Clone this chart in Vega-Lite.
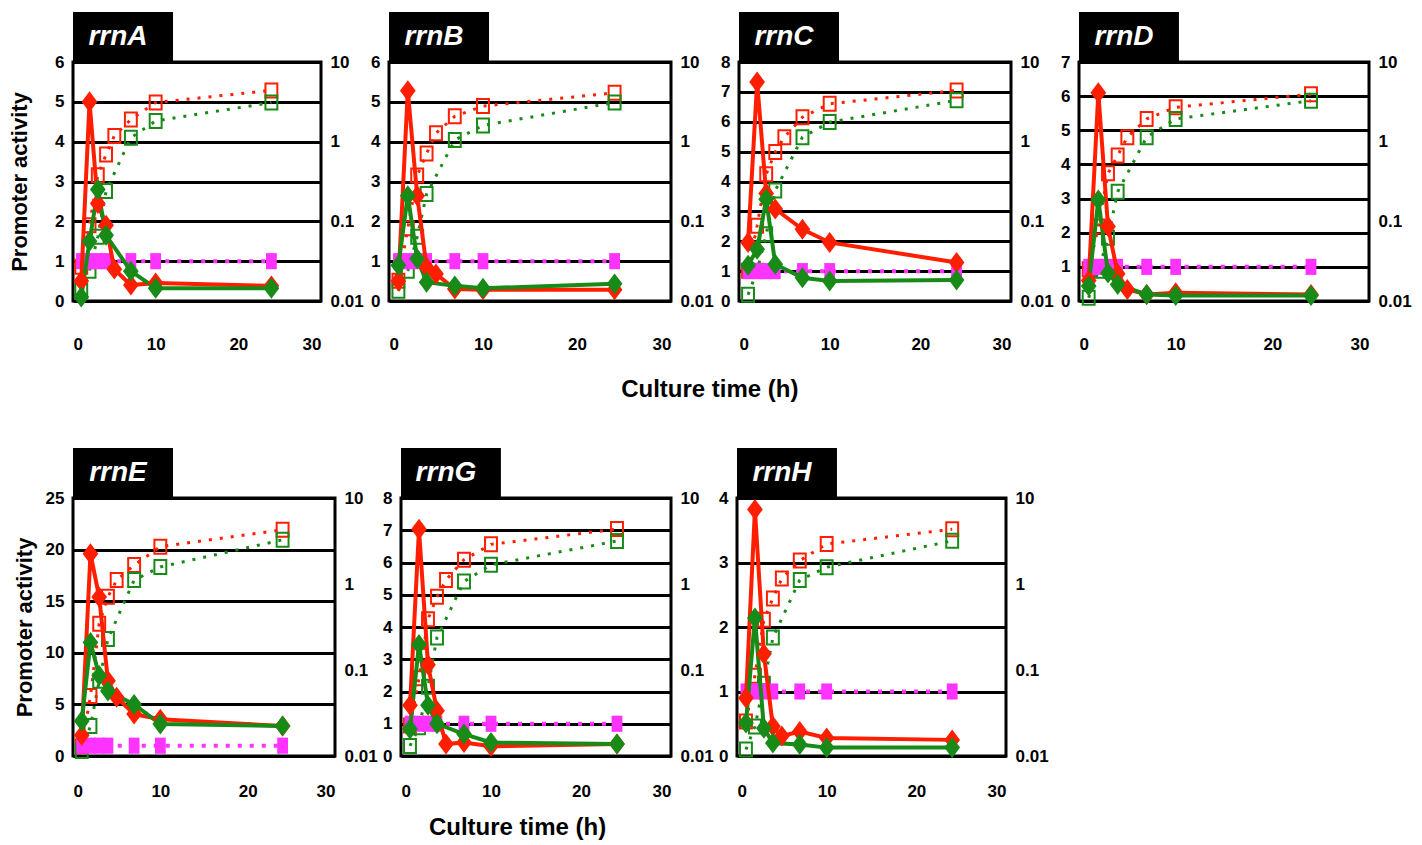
{
"$schema": "https://vega.github.io/schema/vega-lite/v6.json",
"padding": {"left": 7, "top": 10, "right": 5, "bottom": 5},
"background": "white",
"datasets": {"d": [
{"p":"A","s":"m","t":1,"v":1},{"p":"A","s":"m","t":2,"v":1},{"p":"A","s":"m","t":3,"v":1},{"p":"A","s":"m","t":4,"v":1},{"p":"A","s":"m","t":7,"v":1},{"p":"A","s":"m","t":10,"v":1},{"p":"A","s":"m","t":24,"v":1},
{"p":"A","s":"ro","t":1,"v":0.027},{"p":"A","s":"ro","t":2,"v":0.089},{"p":"A","s":"ro","t":3,"v":0.38},{"p":"A","s":"ro","t":4,"v":0.69},{"p":"A","s":"ro","t":5,"v":1.18},{"p":"A","s":"ro","t":7,"v":1.9},{"p":"A","s":"ro","t":10,"v":3.1},{"p":"A","s":"ro","t":24,"v":4.4},
{"p":"A","s":"go","t":1,"v":0.0134},{"p":"A","s":"go","t":2,"v":0.024},{"p":"A","s":"go","t":3,"v":0.064},{"p":"A","s":"go","t":4,"v":0.24},{"p":"A","s":"go","t":7,"v":1.12},{"p":"A","s":"go","t":10,"v":1.82},{"p":"A","s":"go","t":24,"v":3.1},
{"p":"A","s":"rp","t":1,"v":0.5},{"p":"A","s":"rp","t":2,"v":5.0},{"p":"A","s":"rp","t":3,"v":2.45},{"p":"A","s":"rp","t":4,"v":1.9},{"p":"A","s":"rp","t":5,"v":0.8},{"p":"A","s":"rp","t":7,"v":0.4},{"p":"A","s":"rp","t":10,"v":0.45},{"p":"A","s":"rp","t":24,"v":0.38},
{"p":"A","s":"gp","t":1,"v":0.1},{"p":"A","s":"gp","t":2,"v":1.5},{"p":"A","s":"gp","t":3,"v":2.8},{"p":"A","s":"gp","t":4,"v":1.65},{"p":"A","s":"gp","t":7,"v":0.75},{"p":"A","s":"gp","t":10,"v":0.32},{"p":"A","s":"gp","t":24,"v":0.32},
{"p":"B","s":"m","t":1,"v":1},{"p":"B","s":"m","t":2,"v":1},{"p":"B","s":"m","t":3,"v":1},{"p":"B","s":"m","t":4,"v":1},{"p":"B","s":"m","t":7,"v":1},{"p":"B","s":"m","t":10,"v":1},{"p":"B","s":"m","t":24,"v":1},
{"p":"B","s":"ro","t":1,"v":0.018},{"p":"B","s":"ro","t":2,"v":0.082},{"p":"B","s":"ro","t":3,"v":0.375},{"p":"B","s":"ro","t":4,"v":0.71},{"p":"B","s":"ro","t":5,"v":1.28},{"p":"B","s":"ro","t":7,"v":2.08},{"p":"B","s":"ro","t":10,"v":2.8},{"p":"B","s":"ro","t":24,"v":4.1},
{"p":"B","s":"go","t":1,"v":0.0134},{"p":"B","s":"go","t":2,"v":0.024},{"p":"B","s":"go","t":3,"v":0.064},{"p":"B","s":"go","t":4,"v":0.22},{"p":"B","s":"go","t":7,"v":1.05},{"p":"B","s":"go","t":10,"v":1.6},{"p":"B","s":"go","t":24,"v":3.1},
{"p":"B","s":"rp","t":1,"v":0.5},{"p":"B","s":"rp","t":2,"v":5.28},{"p":"B","s":"rp","t":3,"v":2.64},{"p":"B","s":"rp","t":4,"v":0.85},{"p":"B","s":"rp","t":5,"v":0.68},{"p":"B","s":"rp","t":7,"v":0.3},{"p":"B","s":"rp","t":10,"v":0.28},{"p":"B","s":"rp","t":24,"v":0.28},
{"p":"B","s":"gp","t":1,"v":0.9},{"p":"B","s":"gp","t":2,"v":2.64},{"p":"B","s":"gp","t":3,"v":1.06},{"p":"B","s":"gp","t":4,"v":0.47},{"p":"B","s":"gp","t":7,"v":0.38},{"p":"B","s":"gp","t":10,"v":0.32},{"p":"B","s":"gp","t":24,"v":0.43},
{"p":"C","s":"m","t":1,"v":1},{"p":"C","s":"m","t":2,"v":1},{"p":"C","s":"m","t":3,"v":1},{"p":"C","s":"m","t":4,"v":1},{"p":"C","s":"m","t":7,"v":1},{"p":"C","s":"m","t":10,"v":1},{"p":"C","s":"m","t":24,"v":1},
{"p":"C","s":"ro","t":1,"v":0.024},{"p":"C","s":"ro","t":2,"v":0.088},{"p":"C","s":"ro","t":3,"v":0.39},{"p":"C","s":"ro","t":4,"v":0.74},{"p":"C","s":"ro","t":5,"v":1.14},{"p":"C","s":"ro","t":7,"v":2.03},{"p":"C","s":"ro","t":10,"v":2.99},{"p":"C","s":"ro","t":24,"v":4.4},
{"p":"C","s":"go","t":1,"v":0.012},{"p":"C","s":"go","t":2,"v":0.024},{"p":"C","s":"go","t":3,"v":0.069},{"p":"C","s":"go","t":4,"v":0.243},{"p":"C","s":"go","t":7,"v":1.14},{"p":"C","s":"go","t":10,"v":1.76},{"p":"C","s":"go","t":24,"v":3.3},
{"p":"C","s":"rp","t":1,"v":1.96},{"p":"C","s":"rp","t":2,"v":7.33},{"p":"C","s":"rp","t":3,"v":3.6},{"p":"C","s":"rp","t":4,"v":3.08},{"p":"C","s":"rp","t":7,"v":2.4},{"p":"C","s":"rp","t":10,"v":1.96},{"p":"C","s":"rp","t":24,"v":1.29},
{"p":"C","s":"gp","t":1,"v":1.2},{"p":"C","s":"gp","t":2,"v":1.73},{"p":"C","s":"gp","t":3,"v":3.41},{"p":"C","s":"gp","t":4,"v":1.23},{"p":"C","s":"gp","t":7,"v":0.78},{"p":"C","s":"gp","t":10,"v":0.67},{"p":"C","s":"gp","t":24,"v":0.7},
{"p":"D","s":"m","t":1,"v":1},{"p":"D","s":"m","t":2,"v":1},{"p":"D","s":"m","t":3,"v":1},{"p":"D","s":"m","t":4,"v":1},{"p":"D","s":"m","t":7,"v":1},{"p":"D","s":"m","t":10,"v":1},{"p":"D","s":"m","t":24,"v":1},
{"p":"D","s":"ro","t":1,"v":0.025},{"p":"D","s":"ro","t":2,"v":0.086},{"p":"D","s":"ro","t":3,"v":0.4},{"p":"D","s":"ro","t":4,"v":0.67},{"p":"D","s":"ro","t":5,"v":1.14},{"p":"D","s":"ro","t":7,"v":1.93},{"p":"D","s":"ro","t":10,"v":2.7},{"p":"D","s":"ro","t":24,"v":3.95},
{"p":"D","s":"go","t":1,"v":0.011},{"p":"D","s":"go","t":2,"v":0.024},{"p":"D","s":"go","t":3,"v":0.062},{"p":"D","s":"go","t":4,"v":0.235},{"p":"D","s":"go","t":7,"v":1.14},{"p":"D","s":"go","t":10,"v":1.93},{"p":"D","s":"go","t":24,"v":3.27},
{"p":"D","s":"rp","t":1,"v":0.6},{"p":"D","s":"rp","t":2,"v":6.1},{"p":"D","s":"rp","t":3,"v":2.18},{"p":"D","s":"rp","t":4,"v":0.8},{"p":"D","s":"rp","t":5,"v":0.34},{"p":"D","s":"rp","t":7,"v":0.19},{"p":"D","s":"rp","t":10,"v":0.24},{"p":"D","s":"rp","t":24,"v":0.19},
{"p":"D","s":"gp","t":1,"v":0.44},{"p":"D","s":"gp","t":2,"v":2.96},{"p":"D","s":"gp","t":3,"v":0.82},{"p":"D","s":"gp","t":4,"v":0.48},{"p":"D","s":"gp","t":7,"v":0.19},{"p":"D","s":"gp","t":10,"v":0.16},{"p":"D","s":"gp","t":24,"v":0.16},
{"p":"E","s":"m","t":1,"v":1},{"p":"E","s":"m","t":2,"v":1},{"p":"E","s":"m","t":3,"v":1},{"p":"E","s":"m","t":4,"v":1},{"p":"E","s":"m","t":7,"v":1},{"p":"E","s":"m","t":10,"v":1},{"p":"E","s":"m","t":24,"v":1},
{"p":"E","s":"ro","t":1,"v":0.013},{"p":"E","s":"ro","t":2,"v":0.05},{"p":"E","s":"ro","t":3,"v":0.346},{"p":"E","s":"ro","t":4,"v":0.71},{"p":"E","s":"ro","t":5,"v":1.11},{"p":"E","s":"ro","t":7,"v":1.66},{"p":"E","s":"ro","t":10,"v":2.72},{"p":"E","s":"ro","t":24,"v":4.26},
{"p":"E","s":"go","t":1,"v":0.0114},{"p":"E","s":"go","t":2,"v":0.0224},{"p":"E","s":"go","t":3,"v":0.075},{"p":"E","s":"go","t":4,"v":0.23},{"p":"E","s":"go","t":7,"v":1.11},{"p":"E","s":"go","t":10,"v":1.58},{"p":"E","s":"go","t":24,"v":3.26},
{"p":"E","s":"rp","t":1,"v":2.0},{"p":"E","s":"rp","t":2,"v":19.6},{"p":"E","s":"rp","t":3,"v":15.4},{"p":"E","s":"rp","t":4,"v":7.3},{"p":"E","s":"rp","t":5,"v":5.7},{"p":"E","s":"rp","t":7,"v":4.06},{"p":"E","s":"rp","t":10,"v":3.57},{"p":"E","s":"rp","t":24,"v":2.9},
{"p":"E","s":"gp","t":1,"v":3.4},{"p":"E","s":"gp","t":2,"v":11.0},{"p":"E","s":"gp","t":3,"v":7.8},{"p":"E","s":"gp","t":4,"v":6.3},{"p":"E","s":"gp","t":7,"v":5.0},{"p":"E","s":"gp","t":10,"v":3.1},{"p":"E","s":"gp","t":24,"v":2.9},
{"p":"G","s":"m","t":1,"v":1},{"p":"G","s":"m","t":2,"v":1},{"p":"G","s":"m","t":3,"v":1},{"p":"G","s":"m","t":4,"v":1},{"p":"G","s":"m","t":7,"v":1},{"p":"G","s":"m","t":10,"v":1},{"p":"G","s":"m","t":24,"v":1},
{"p":"G","s":"ro","t":1,"v":0.0226},{"p":"G","s":"ro","t":2,"v":0.08},{"p":"G","s":"ro","t":3,"v":0.39},{"p":"G","s":"ro","t":4,"v":0.71},{"p":"G","s":"ro","t":5,"v":1.11},{"p":"G","s":"ro","t":7,"v":1.92},{"p":"G","s":"ro","t":10,"v":2.89},{"p":"G","s":"ro","t":24,"v":4.35},
{"p":"G","s":"go","t":1,"v":0.0131},{"p":"G","s":"go","t":2,"v":0.0216},{"p":"G","s":"go","t":3,"v":0.064},{"p":"G","s":"go","t":4,"v":0.239},{"p":"G","s":"go","t":7,"v":1.07},{"p":"G","s":"go","t":10,"v":1.67},{"p":"G","s":"go","t":24,"v":3.16},
{"p":"G","s":"rp","t":1,"v":1.57},{"p":"G","s":"rp","t":2,"v":7.03},{"p":"G","s":"rp","t":3,"v":2.83},{"p":"G","s":"rp","t":4,"v":1.4},{"p":"G","s":"rp","t":5,"v":0.37},{"p":"G","s":"rp","t":7,"v":0.42},{"p":"G","s":"rp","t":10,"v":0.3},{"p":"G","s":"rp","t":24,"v":0.37},
{"p":"G","s":"gp","t":1,"v":0.84},{"p":"G","s":"gp","t":2,"v":3.46},{"p":"G","s":"gp","t":3,"v":1.57},{"p":"G","s":"gp","t":4,"v":1.0},{"p":"G","s":"gp","t":7,"v":0.68},{"p":"G","s":"gp","t":10,"v":0.42},{"p":"G","s":"gp","t":24,"v":0.37},
{"p":"H","s":"m","t":1,"v":1},{"p":"H","s":"m","t":2,"v":1},{"p":"H","s":"m","t":3,"v":1},{"p":"H","s":"m","t":4,"v":1},{"p":"H","s":"m","t":7,"v":1},{"p":"H","s":"m","t":10,"v":1},{"p":"H","s":"m","t":24,"v":1},
{"p":"H","s":"ro","t":1,"v":0.0252},{"p":"H","s":"ro","t":2,"v":0.086},{"p":"H","s":"ro","t":3,"v":0.385},{"p":"H","s":"ro","t":4,"v":0.68},{"p":"H","s":"ro","t":5,"v":1.16},{"p":"H","s":"ro","t":7,"v":1.87},{"p":"H","s":"ro","t":10,"v":2.92},{"p":"H","s":"ro","t":24,"v":4.33},
{"p":"H","s":"go","t":1,"v":0.0119},{"p":"H","s":"go","t":2,"v":0.022},{"p":"H","s":"go","t":3,"v":0.069},{"p":"H","s":"go","t":4,"v":0.238},{"p":"H","s":"go","t":7,"v":1.11},{"p":"H","s":"go","t":10,"v":1.57},{"p":"H","s":"go","t":24,"v":3.18},
{"p":"H","s":"rp","t":1,"v":0.9},{"p":"H","s":"rp","t":2,"v":3.82},{"p":"H","s":"rp","t":3,"v":1.58},{"p":"H","s":"rp","t":4,"v":0.46},{"p":"H","s":"rp","t":5,"v":0.31},{"p":"H","s":"rp","t":7,"v":0.38},{"p":"H","s":"rp","t":10,"v":0.28},{"p":"H","s":"rp","t":24,"v":0.25},
{"p":"H","s":"gp","t":1,"v":0.51},{"p":"H","s":"gp","t":2,"v":2.14},{"p":"H","s":"gp","t":3,"v":0.43},{"p":"H","s":"gp","t":4,"v":0.2},{"p":"H","s":"gp","t":7,"v":0.18},{"p":"H","s":"gp","t":10,"v":0.13},{"p":"H","s":"gp","t":24,"v":0.13}
]},
"config": {
  "font": "Liberation Sans",
  "view": {"stroke": "black", "strokeWidth": 3},
  "axis": {"domain": false, "ticks": false, "grid": false, "labelFont": "Liberation Sans", "labelFontSize": 17, "labelFontWeight": "bold", "labelColor": "black", "labelPadding": 9, "labelOverlap": false, "titleFont": "Liberation Sans", "titleFontSize": 22, "titleFontWeight": "bold", "titleColor": "black", "gridColor": "black", "gridWidth": 3, "gridOpacity": 1},
  "axisX": {"labelPadding": 35},
  "axisRight": {"labelExpr": "datum.value > 5 ? '10' : datum.value > 0.5 ? '1' : datum.value > 0.05 ? '0.1' : '0.01'"},
  "text": {"font": "Liberation Sans"},
  "title": {"font": "Liberation Sans", "fontSize": 24, "fontWeight": "bold", "color": "black"}
},
"spacing": 44,
"vconcat": [
{"hconcat": [
  {"width": 248, "height": 239, "data": {"name": "d"}, "transform": [{"filter": "datum.p=='A'"}],
   "encoding": {"x": {"field": "t", "type": "quantitative", "scale": {"domain": [0, 30], "nice": false}, "axis": {"values": [0, 10, 20, 30], "title": null}},
    "color": {"field": "s", "type": "nominal", "scale": {"domain": ["rp", "gp", "ro", "go", "m"], "range": ["#ff1f00", "#178a17", "#ff1f00", "#178a17", "#ff33ff"]}, "legend": null}},
   "layer": [
    {"transform": [{"filter": "datum.s=='ro'||datum.s=='go'"}],
     "encoding": {"y": {"field": "v", "type": "quantitative", "scale": {"type": "log", "domain": [0.01, 10], "nice": false}, "axis": {"orient": "right", "values": [0.01, 0.1, 1, 10], "title": null}}},
     "layer": [{"mark": {"type": "line", "strokeWidth": 3, "strokeDash": [3, 8]}}, {"mark": {"type": "point", "shape": "M-0.85,-1L0.85,-1L0.85,1L-0.85,1Z", "size": 196, "filled": false, "strokeWidth": 2, "opacity": 1}}]},
    {"encoding": {"y": {"field": "v", "type": "quantitative", "scale": {"domain": [0, 6], "nice": false}, "axis": {"values": [0, 1, 2, 3, 4, 5, 6], "grid": true, "title": "Promoter activity", "titlePadding": 23}}},
     "layer": [
      {"transform": [{"filter": "datum.s=='m'"}], "mark": {"type": "line", "strokeWidth": 4, "strokeDash": [4, 8]}},
      {"transform": [{"filter": "datum.s=='m'"}], "mark": {"type": "point", "shape": "M-0.67,-1L0.67,-1L0.67,1L-0.67,1Z", "size": 260, "filled": true, "opacity": 1}},
      {"transform": [{"filter": "datum.s=='rp'||datum.s=='gp'"}], "mark": {"type": "line", "strokeWidth": 4}},
      {"transform": [{"filter": "datum.s=='rp'||datum.s=='gp'"}], "mark": {"type": "point", "shape": "M0,-1L0.75,0L0,1L-0.75,0Z", "size": 440, "filled": true, "opacity": 1}},
      {"transform": [{"filter": "datum.s=='m'&&datum.t==1"}], "mark": {"type": "rect"}, "encoding": {"x": {"datum": 0}, "x2": {"datum": 12.1}, "y": {"datum": 6}, "y2": {"datum": 7.255}, "color": {"value": "black"}}},
      {"transform": [{"filter": "datum.s=='m'&&datum.t==1"}], "mark": {"type": "text", "fontSize": 28, "fontWeight": "bold", "fontStyle": "italic", "dx": -5}, "encoding": {"x": {"datum": 6.05}, "y": {"datum": 6.63}, "text": {"value": "rrnA"}, "color": {"value": "white"}}}]}
   ],
   "resolve": {"scale": {"y": "independent"}}},
  {"width": 282, "height": 239, "data": {"name": "d"}, "transform": [{"filter": "datum.p=='B'"}],
   "encoding": {"x": {"field": "t", "type": "quantitative", "scale": {"domain": [0, 30], "nice": false}, "axis": {"values": [0, 10, 20, 30], "title": null}},
    "color": {"field": "s", "type": "nominal", "scale": {"domain": ["rp", "gp", "ro", "go", "m"], "range": ["#ff1f00", "#178a17", "#ff1f00", "#178a17", "#ff33ff"]}, "legend": null}},
   "layer": [
    {"transform": [{"filter": "datum.s=='ro'||datum.s=='go'"}],
     "encoding": {"y": {"field": "v", "type": "quantitative", "scale": {"type": "log", "domain": [0.01, 10], "nice": false}, "axis": {"orient": "right", "values": [0.01, 0.1, 1, 10], "title": null}}},
     "layer": [{"mark": {"type": "line", "strokeWidth": 3, "strokeDash": [3, 8]}}, {"mark": {"type": "point", "shape": "M-0.85,-1L0.85,-1L0.85,1L-0.85,1Z", "size": 196, "filled": false, "strokeWidth": 2, "opacity": 1}}]},
    {"encoding": {"y": {"field": "v", "type": "quantitative", "scale": {"domain": [0, 6], "nice": false}, "axis": {"values": [0, 1, 2, 3, 4, 5, 6], "grid": true, "title": null}}},
     "layer": [
      {"transform": [{"filter": "datum.s=='m'"}], "mark": {"type": "line", "strokeWidth": 4, "strokeDash": [4, 8]}},
      {"transform": [{"filter": "datum.s=='m'"}], "mark": {"type": "point", "shape": "M-0.67,-1L0.67,-1L0.67,1L-0.67,1Z", "size": 260, "filled": true, "opacity": 1}},
      {"transform": [{"filter": "datum.s=='rp'||datum.s=='gp'"}], "mark": {"type": "line", "strokeWidth": 4}},
      {"transform": [{"filter": "datum.s=='rp'||datum.s=='gp'"}], "mark": {"type": "point", "shape": "M0,-1L0.75,0L0,1L-0.75,0Z", "size": 440, "filled": true, "opacity": 1}},
      {"transform": [{"filter": "datum.s=='m'&&datum.t==1"}], "mark": {"type": "rect"}, "encoding": {"x": {"datum": 0}, "x2": {"datum": 10.64}, "y": {"datum": 6}, "y2": {"datum": 7.255}, "color": {"value": "black"}}},
      {"transform": [{"filter": "datum.s=='m'&&datum.t==1"}], "mark": {"type": "text", "fontSize": 28, "fontWeight": "bold", "fontStyle": "italic", "dx": -5}, "encoding": {"x": {"datum": 5.32}, "y": {"datum": 6.63}, "text": {"value": "rrnB"}, "color": {"value": "white"}}}]}
   ],
   "resolve": {"scale": {"y": "independent"}}},
  {"width": 272, "height": 239, "data": {"name": "d"}, "transform": [{"filter": "datum.p=='C'"}],
   "encoding": {"x": {"field": "t", "type": "quantitative", "scale": {"domain": [0, 30], "nice": false}, "axis": {"values": [0, 10, 20, 30], "title": null}},
    "color": {"field": "s", "type": "nominal", "scale": {"domain": ["rp", "gp", "ro", "go", "m"], "range": ["#ff1f00", "#178a17", "#ff1f00", "#178a17", "#ff33ff"]}, "legend": null}},
   "layer": [
    {"transform": [{"filter": "datum.s=='ro'||datum.s=='go'"}],
     "encoding": {"y": {"field": "v", "type": "quantitative", "scale": {"type": "log", "domain": [0.01, 10], "nice": false}, "axis": {"orient": "right", "values": [0.01, 0.1, 1, 10], "title": null}}},
     "layer": [{"mark": {"type": "line", "strokeWidth": 3, "strokeDash": [3, 8]}}, {"mark": {"type": "point", "shape": "M-0.85,-1L0.85,-1L0.85,1L-0.85,1Z", "size": 196, "filled": false, "strokeWidth": 2, "opacity": 1}}]},
    {"encoding": {"y": {"field": "v", "type": "quantitative", "scale": {"domain": [0, 8], "nice": false}, "axis": {"values": [0, 1, 2, 3, 4, 5, 6, 7, 8], "grid": true, "title": null}}},
     "layer": [
      {"transform": [{"filter": "datum.s=='m'"}], "mark": {"type": "line", "strokeWidth": 4, "strokeDash": [4, 8]}},
      {"transform": [{"filter": "datum.s=='m'"}], "mark": {"type": "point", "shape": "M-0.67,-1L0.67,-1L0.67,1L-0.67,1Z", "size": 260, "filled": true, "opacity": 1}},
      {"transform": [{"filter": "datum.s=='rp'||datum.s=='gp'"}], "mark": {"type": "line", "strokeWidth": 4}},
      {"transform": [{"filter": "datum.s=='rp'||datum.s=='gp'"}], "mark": {"type": "point", "shape": "M0,-1L0.75,0L0,1L-0.75,0Z", "size": 440, "filled": true, "opacity": 1}},
      {"transform": [{"filter": "datum.s=='m'&&datum.t==1"}], "mark": {"type": "rect"}, "encoding": {"x": {"datum": 0}, "x2": {"datum": 11.03}, "y": {"datum": 8}, "y2": {"datum": 9.674}, "color": {"value": "black"}}},
      {"transform": [{"filter": "datum.s=='m'&&datum.t==1"}], "mark": {"type": "text", "fontSize": 28, "fontWeight": "bold", "fontStyle": "italic", "dx": -5}, "encoding": {"x": {"datum": 5.515}, "y": {"datum": 8.837}, "text": {"value": "rrnC"}, "color": {"value": "white"}}}]}
   ],
   "resolve": {"scale": {"y": "independent"}}},
  {"width": 290, "height": 239, "data": {"name": "d"}, "transform": [{"filter": "datum.p=='D'"}],
   "encoding": {"x": {"field": "t", "type": "quantitative", "scale": {"domain": [0, 30], "nice": false}, "axis": {"values": [0, 10, 20, 30], "title": null}},
    "color": {"field": "s", "type": "nominal", "scale": {"domain": ["rp", "gp", "ro", "go", "m"], "range": ["#ff1f00", "#178a17", "#ff1f00", "#178a17", "#ff33ff"]}, "legend": null}},
   "layer": [
    {"transform": [{"filter": "datum.s=='ro'||datum.s=='go'"}],
     "encoding": {"y": {"field": "v", "type": "quantitative", "scale": {"type": "log", "domain": [0.01, 10], "nice": false}, "axis": {"orient": "right", "values": [0.01, 0.1, 1, 10], "title": null}}},
     "layer": [{"mark": {"type": "line", "strokeWidth": 3, "strokeDash": [3, 8]}}, {"mark": {"type": "point", "shape": "M-0.85,-1L0.85,-1L0.85,1L-0.85,1Z", "size": 196, "filled": false, "strokeWidth": 2, "opacity": 1}}]},
    {"encoding": {"y": {"field": "v", "type": "quantitative", "scale": {"domain": [0, 7], "nice": false}, "axis": {"values": [0, 1, 2, 3, 4, 5, 6, 7], "grid": true, "title": null}}},
     "layer": [
      {"transform": [{"filter": "datum.s=='m'"}], "mark": {"type": "line", "strokeWidth": 4, "strokeDash": [4, 8]}},
      {"transform": [{"filter": "datum.s=='m'"}], "mark": {"type": "point", "shape": "M-0.67,-1L0.67,-1L0.67,1L-0.67,1Z", "size": 260, "filled": true, "opacity": 1}},
      {"transform": [{"filter": "datum.s=='rp'||datum.s=='gp'"}], "mark": {"type": "line", "strokeWidth": 4}},
      {"transform": [{"filter": "datum.s=='rp'||datum.s=='gp'"}], "mark": {"type": "point", "shape": "M0,-1L0.75,0L0,1L-0.75,0Z", "size": 440, "filled": true, "opacity": 1}},
      {"transform": [{"filter": "datum.s=='m'&&datum.t==1"}], "mark": {"type": "rect"}, "encoding": {"x": {"datum": 0}, "x2": {"datum": 10.34}, "y": {"datum": 7}, "y2": {"datum": 8.464}, "color": {"value": "black"}}},
      {"transform": [{"filter": "datum.s=='m'&&datum.t==1"}], "mark": {"type": "text", "fontSize": 28, "fontWeight": "bold", "fontStyle": "italic", "dx": -5}, "encoding": {"x": {"datum": 5.17}, "y": {"datum": 7.732}, "text": {"value": "rrnD"}, "color": {"value": "white"}}}]}
   ],
   "resolve": {"scale": {"y": "independent"}}}
], "spacing": 68, "bounds": "flush",
 "title": {"text": "Culture time (h)", "orient": "bottom", "anchor": "middle", "offset": 24, "dx": 0}},
{"hconcat": [
  {"width": 262, "height": 258, "data": {"name": "d"}, "transform": [{"filter": "datum.p=='E'"}],
   "encoding": {"x": {"field": "t", "type": "quantitative", "scale": {"domain": [0, 30], "nice": false}, "axis": {"values": [0, 10, 20, 30], "title": null, "labelPadding": 27}},
    "color": {"field": "s", "type": "nominal", "scale": {"domain": ["rp", "gp", "ro", "go", "m"], "range": ["#ff1f00", "#178a17", "#ff1f00", "#178a17", "#ff33ff"]}, "legend": null}},
   "layer": [
    {"transform": [{"filter": "datum.s=='ro'||datum.s=='go'"}],
     "encoding": {"y": {"field": "v", "type": "quantitative", "scale": {"type": "log", "domain": [0.01, 10], "nice": false}, "axis": {"orient": "right", "values": [0.01, 0.1, 1, 10], "title": null}}},
     "layer": [{"mark": {"type": "line", "strokeWidth": 3, "strokeDash": [3, 8]}}, {"mark": {"type": "point", "shape": "M-0.85,-1L0.85,-1L0.85,1L-0.85,1Z", "size": 196, "filled": false, "strokeWidth": 2, "opacity": 1}}]},
    {"encoding": {"y": {"field": "v", "type": "quantitative", "scale": {"domain": [0, 25], "nice": false}, "axis": {"values": [0, 5, 10, 15, 20, 25], "grid": true, "title": "Promoter activity", "titlePadding": 9}}},
     "layer": [
      {"transform": [{"filter": "datum.s=='m'"}], "mark": {"type": "line", "strokeWidth": 4, "strokeDash": [4, 8]}},
      {"transform": [{"filter": "datum.s=='m'"}], "mark": {"type": "point", "shape": "M-0.67,-1L0.67,-1L0.67,1L-0.67,1Z", "size": 260, "filled": true, "opacity": 1}},
      {"transform": [{"filter": "datum.s=='rp'||datum.s=='gp'"}], "mark": {"type": "line", "strokeWidth": 4}},
      {"transform": [{"filter": "datum.s=='rp'||datum.s=='gp'"}], "mark": {"type": "point", "shape": "M0,-1L0.75,0L0,1L-0.75,0Z", "size": 440, "filled": true, "opacity": 1}},
      {"transform": [{"filter": "datum.s=='m'&&datum.t==1"}], "mark": {"type": "rect"}, "encoding": {"x": {"datum": 0}, "x2": {"datum": 11.45}, "y": {"datum": 25}, "y2": {"datum": 29.845}, "color": {"value": "black"}}},
      {"transform": [{"filter": "datum.s=='m'&&datum.t==1"}], "mark": {"type": "text", "fontSize": 28, "fontWeight": "bold", "fontStyle": "italic", "dx": -5}, "encoding": {"x": {"datum": 5.725}, "y": {"datum": 27.42}, "text": {"value": "rrnE"}, "color": {"value": "white"}}}]}
   ],
   "resolve": {"scale": {"y": "independent"}}},
  {"width": 270, "height": 258, "data": {"name": "d"}, "transform": [{"filter": "datum.p=='G'"}],
   "encoding": {"x": {"field": "t", "type": "quantitative", "scale": {"domain": [0, 30], "nice": false}, "axis": {"values": [0, 10, 20, 30], "title": null, "labelPadding": 27}},
    "color": {"field": "s", "type": "nominal", "scale": {"domain": ["rp", "gp", "ro", "go", "m"], "range": ["#ff1f00", "#178a17", "#ff1f00", "#178a17", "#ff33ff"]}, "legend": null}},
   "layer": [
    {"transform": [{"filter": "datum.s=='ro'||datum.s=='go'"}],
     "encoding": {"y": {"field": "v", "type": "quantitative", "scale": {"type": "log", "domain": [0.01, 10], "nice": false}, "axis": {"orient": "right", "values": [0.01, 0.1, 1, 10], "title": null}}},
     "layer": [{"mark": {"type": "line", "strokeWidth": 3, "strokeDash": [3, 8]}}, {"mark": {"type": "point", "shape": "M-0.85,-1L0.85,-1L0.85,1L-0.85,1Z", "size": 196, "filled": false, "strokeWidth": 2, "opacity": 1}}]},
    {"encoding": {"y": {"field": "v", "type": "quantitative", "scale": {"domain": [0, 8], "nice": false}, "axis": {"values": [0, 1, 2, 3, 4, 5, 6, 7, 8], "grid": true, "title": null}}},
     "layer": [
      {"transform": [{"filter": "datum.s=='m'"}], "mark": {"type": "line", "strokeWidth": 4, "strokeDash": [4, 8]}},
      {"transform": [{"filter": "datum.s=='m'"}], "mark": {"type": "point", "shape": "M-0.67,-1L0.67,-1L0.67,1L-0.67,1Z", "size": 260, "filled": true, "opacity": 1}},
      {"transform": [{"filter": "datum.s=='rp'||datum.s=='gp'"}], "mark": {"type": "line", "strokeWidth": 4}},
      {"transform": [{"filter": "datum.s=='rp'||datum.s=='gp'"}], "mark": {"type": "point", "shape": "M0,-1L0.75,0L0,1L-0.75,0Z", "size": 440, "filled": true, "opacity": 1}},
      {"transform": [{"filter": "datum.s=='m'&&datum.t==1"}], "mark": {"type": "rect"}, "encoding": {"x": {"datum": 0}, "x2": {"datum": 11.1}, "y": {"datum": 8}, "y2": {"datum": 9.55}, "color": {"value": "black"}}},
      {"transform": [{"filter": "datum.s=='m'&&datum.t==1"}], "mark": {"type": "text", "fontSize": 28, "fontWeight": "bold", "fontStyle": "italic", "dx": -5}, "encoding": {"x": {"datum": 5.55}, "y": {"datum": 8.775}, "text": {"value": "rrnG"}, "color": {"value": "white"}}}]}
   ],
   "resolve": {"scale": {"y": "independent"}}},
  {"width": 269, "height": 258, "data": {"name": "d"}, "transform": [{"filter": "datum.p=='H'"}],
   "encoding": {"x": {"field": "t", "type": "quantitative", "scale": {"domain": [0, 30], "nice": false}, "axis": {"values": [0, 10, 20, 30], "title": null, "labelPadding": 27}},
    "color": {"field": "s", "type": "nominal", "scale": {"domain": ["rp", "gp", "ro", "go", "m"], "range": ["#ff1f00", "#178a17", "#ff1f00", "#178a17", "#ff33ff"]}, "legend": null}},
   "layer": [
    {"transform": [{"filter": "datum.s=='ro'||datum.s=='go'"}],
     "encoding": {"y": {"field": "v", "type": "quantitative", "scale": {"type": "log", "domain": [0.01, 10], "nice": false}, "axis": {"orient": "right", "values": [0.01, 0.1, 1, 10], "title": null}}},
     "layer": [{"mark": {"type": "line", "strokeWidth": 3, "strokeDash": [3, 8]}}, {"mark": {"type": "point", "shape": "M-0.85,-1L0.85,-1L0.85,1L-0.85,1Z", "size": 196, "filled": false, "strokeWidth": 2, "opacity": 1}}]},
    {"encoding": {"y": {"field": "v", "type": "quantitative", "scale": {"domain": [0, 4], "nice": false}, "axis": {"values": [0, 1, 2, 3, 4], "grid": true, "title": null}}},
     "layer": [
      {"transform": [{"filter": "datum.s=='m'"}], "mark": {"type": "line", "strokeWidth": 4, "strokeDash": [4, 8]}},
      {"transform": [{"filter": "datum.s=='m'"}], "mark": {"type": "point", "shape": "M-0.67,-1L0.67,-1L0.67,1L-0.67,1Z", "size": 260, "filled": true, "opacity": 1}},
      {"transform": [{"filter": "datum.s=='rp'||datum.s=='gp'"}], "mark": {"type": "line", "strokeWidth": 4}},
      {"transform": [{"filter": "datum.s=='rp'||datum.s=='gp'"}], "mark": {"type": "point", "shape": "M0,-1L0.75,0L0,1L-0.75,0Z", "size": 440, "filled": true, "opacity": 1}},
      {"transform": [{"filter": "datum.s=='m'&&datum.t==1"}], "mark": {"type": "rect"}, "encoding": {"x": {"datum": 0}, "x2": {"datum": 11.15}, "y": {"datum": 4}, "y2": {"datum": 4.775}, "color": {"value": "black"}}},
      {"transform": [{"filter": "datum.s=='m'&&datum.t==1"}], "mark": {"type": "text", "fontSize": 28, "fontWeight": "bold", "fontStyle": "italic", "dx": -5}, "encoding": {"x": {"datum": 5.575}, "y": {"datum": 4.3875}, "text": {"value": "rrnH"}, "color": {"value": "white"}}}]}
   ],
   "resolve": {"scale": {"y": "independent"}}}
], "spacing": 66, "bounds": "flush",
 "title": {"text": "Culture time (h)", "orient": "bottom", "anchor": "middle", "offset": 15, "dx": -13}}
]
}
